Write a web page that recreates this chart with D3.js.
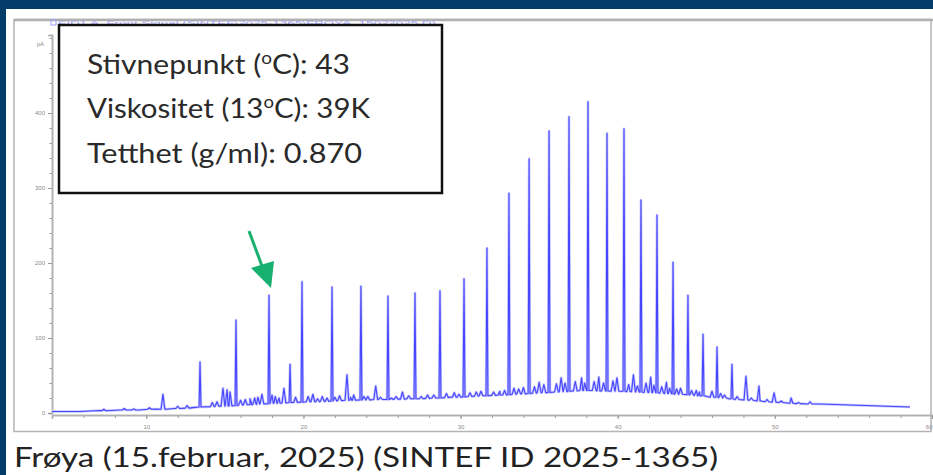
<!DOCTYPE html>
<html>
<head>
<meta charset="utf-8">
<script src="https://cdn.jsdelivr.net/npm/d3@7"></script>
<style>
  body { margin: 0; background: #023c68; }
  svg { display: block; }
  .tick text { font-family: "Liberation Sans", sans-serif; fill: #8a8a8a; }
</style>
</head>
<body>
<div id="chart"></div>
<script>
// chromatogram: time in minutes, signal in pA
var baseline = [
  [4.0, 2], [5.78, 2], [7.05, 3.3], [8.33, 4], [9.6, 4], [10.55, 5.3], [11.83, 6],
  [13.1, 7.5], [14.69, 9.3], [16.6, 11.3], [18.51, 13.3], [19.78, 14.7], [22.96, 17.3],
  [26.15, 18.7], [29.33, 21.3], [32.51, 24], [35.69, 28], [37.6, 30.7], [38.87, 29.3],
  [40.78, 29.3], [42.69, 26.7], [45.24, 22.7], [47.15, 18.7], [49.06, 16], [50.96, 13.3],
  [52.87, 12], [54.78, 10.7], [56.69, 9.3], [58.6, 8]
];

// peaks: [time, foot, top]
var peaks = [
  [11.06, 5, 25], [12.0, 6, 9], [12.6, 6.5, 10], [13.42, 8, 68], [14.2, 8.5, 14],
  [14.88, 9, 33], [15.14, 9.5, 31], [15.33, 9.5, 28], [15.71, 10, 124], [16.3, 11, 18],
  [16.9, 11.5, 20], [17.36, 12, 25], [17.81, 12.5, 157], [18.2, 13, 22], [18.76, 13.5, 33],
  [19.15, 14, 65], [19.91, 14.5, 175], [20.6, 15, 25], [21.2, 15.5, 22], [21.82, 16, 168],
  [22.3, 16.5, 23], [22.77, 17, 51], [23.2, 17, 24], [23.66, 17.5, 169], [24.1, 17.5, 22],
  [24.6, 18, 36], [25.38, 18, 156], [25.9, 18.5, 22], [26.3, 18.5, 28], [27.1, 19, 160],
  [27.9, 19.5, 24], [28.69, 20, 163], [29.6, 21, 27], [30.22, 21.5, 179], [31.0, 22.5, 28],
  [31.68, 23, 220], [32.5, 24, 29], [33.08, 24.5, 293], [33.7, 25.5, 32], [34.36, 26, 339],
  [35.0, 27, 41], [35.63, 27.5, 376], [36.4, 28.5, 47], [36.9, 29, 395], [37.7, 30, 47],
  [38.11, 30, 415], [38.8, 29.5, 48], [39.32, 29.5, 373], [39.95, 29, 47], [40.4, 29, 379],
  [41.0, 28.5, 51], [41.48, 28, 284], [42.1, 27.5, 48], [42.5, 27, 264], [43.1, 26, 41],
  [43.52, 25.5, 201], [44.0, 25, 33], [44.47, 24.5, 157], [45.0, 23.5, 30], [45.43, 23, 105],
  [46.32, 21, 88], [46.8, 20, 24], [47.27, 19, 65], [48.16, 17.5, 49], [48.99, 16, 36],
  [49.95, 14.5, 27], [51.03, 13, 20], [52.24, 12, 15]
];

// small bumps riding on the baseline: [time, foot, top]
var noise = [
  [7.3, 3, 5], [8.6, 4, 6], [9.2, 4, 5.5], [10.2, 5, 7],
  [14.5, 9, 15], [16.0, 10.5, 17], [16.6, 11, 19], [17.1, 12, 21], [18.0, 13, 24],
  [18.45, 13, 20], [19.5, 14, 21], [20.3, 15, 22], [20.9, 15, 19], [21.5, 15.5, 20],
  [22.0, 16, 21], [23.0, 17, 21], [23.85, 17.5, 22], [24.9, 18, 21], [25.6, 18, 20],
  [26.7, 19, 23], [27.5, 19, 22], [28.3, 20, 24], [29.1, 20.5, 26], [29.9, 21, 25],
  [30.6, 22, 27], [31.3, 23, 29], [32.1, 23.5, 28], [32.8, 24, 30], [33.4, 25, 33],
  [34.0, 25.5, 34], [34.7, 26.5, 35], [35.3, 27, 38], [36.1, 28, 39], [36.65, 28.5, 40],
  [37.3, 29.5, 42], [37.9, 30, 40], [38.5, 30, 42], [39.1, 29.5, 40], [39.7, 29, 43],
  [40.7, 28.5, 38], [41.25, 28, 36], [41.8, 27.5, 40], [42.3, 27, 37], [42.8, 26.5, 35],
  [43.3, 26, 33], [43.75, 25, 32], [44.7, 24, 30], [45.2, 23, 28], [46.0, 21, 29],
  [46.55, 20.5, 26], [47.6, 18, 22], [48.5, 17, 20], [49.5, 15, 18], [50.4, 14, 16],
  [51.5, 12.5, 14]
];

var yTicks = [0, 100, 200, 300, 400];
var xTicks = [10, 20, 30, 40, 50, 60];
var xTickLabels = ["10", "20", "30", "40", "50", "60"];
var infoLines = [
  ["Stivnepunkt (", "o", "C): 43"],
  ["Viskositet (13", "o", "C): 39K"],
  ["Tetthet (g/ml): 0.870", "", ""]
];
var caption = "Frøya (15.februar, 2025) (SINTEF ID 2025-1365)";
var signalTitle = "FID1 A, Front Signal (SINTEF\\2025-1365\\FROYA_15022025.D)";

var W = 933, H = 475;

var svg = d3.select("#chart").append("svg")
    .attr("width", W)
    .attr("height", H);

// white panel
svg.append("rect")
    .attr("x", 6).attr("y", 9)
    .attr("width", W - 6).attr("height", H - 9)
    .attr("fill", "#ffffff");

// chart frame
svg.append("rect")
    .attr("x", 14).attr("y", 19.5)
    .attr("width", 917).attr("height", 412)
    .attr("fill", "none")
    .attr("stroke", "#b4b4b4")
    .attr("stroke-width", 1.5);
svg.append("line")
    .attr("x1", 14).attr("x2", W).attr("y1", 20).attr("y2", 20)
    .attr("stroke", "#b0b0b0").attr("stroke-width", 2.5);

var x = d3.scaleLinear().domain([4, 60]).range([52, 932]);
var y = d3.scaleLinear().domain([0, 504]).range([413, 35]);

// y axis
var gy = svg.append("g")
    .attr("transform", "translate(52,0)")
    .call(d3.axisLeft(y).tickValues(d3.range(0, 501, 20)).tickSize(2.5).tickFormat(""));
gy.append("g")
    .call(d3.axisLeft(y).tickValues(yTicks).tickSize(4).tickPadding(3).tickFormat(d3.format("d")));
gy.selectAll("path.domain").attr("stroke", "#b0b0b0").attr("stroke-width", 1.5);
gy.selectAll("line").attr("stroke", "#9a9a9a");
gy.selectAll("text").style("font-size", "6px");
gy.append("text")
    .attr("x", -8).attr("y", 46)
    .attr("text-anchor", "end")
    .style("font-family", "Liberation Sans, sans-serif")
    .style("font-size", "6px")
    .attr("fill", "#8a8a8a")
    .text("pA");

// x axis
var gx = svg.append("g")
    .attr("transform", "translate(0,415)")
    .call(d3.axisBottom(x).tickValues(d3.range(6, 60, 2)).tickSize(3).tickFormat(""));
gx.append("g")
    .call(d3.axisBottom(x).tickValues(xTicks).tickSize(4).tickPadding(6)
      .tickFormat(function(d, i) { return xTickLabels[i]; }));
gx.selectAll("path.domain").attr("stroke", "#b0b0b0").attr("stroke-width", 1.5);
gx.selectAll("line").attr("stroke", "#9a9a9a");
gx.selectAll("text").style("font-size", "6px");
gx.selectAll(".tick text").filter(function(d) { return d === 60; })
    .attr("text-anchor", "end");

// signal: baseline points plus a narrow spike for each peak and bump
var pts = baseline.map(function(d) { return [d[0], d[1]]; });
peaks.concat(noise).forEach(function(p) {
  var hw = p[2] - p[1] > 40 ? 0.06 : 0.12;
  pts.push([p[0] - hw, p[1]], [p[0], p[2]], [p[0] + hw, p[1]]);
});
pts.sort(function(a, b) { return a[0] - b[0]; });

var line = d3.line()
    .x(function(d) { return x(d[0]); })
    .y(function(d) { return y(d[1]); });

svg.append("path")
    .datum(pts)
    .attr("d", line)
    .attr("fill", "none")
    .attr("stroke", "#c4c4ff")
    .attr("stroke-width", 2.6)
    .attr("stroke-linejoin", "round");
svg.append("path")
    .datum(pts)
    .attr("d", line)
    .attr("fill", "none")
    .attr("stroke", "#4646ff")
    .attr("stroke-width", 1.1)
    .attr("stroke-linejoin", "round");

// faint signal title at the top
svg.append("rect")
    .attr("x", 51).attr("y", 20).attr("width", 5).attr("height", 5)
    .attr("fill", "none").attr("stroke", "#9c9cff").attr("stroke-width", 1);
svg.append("text")
    .attr("x", 58).attr("y", 24.5)
    .attr("textLength", 378).attr("lengthAdjust", "spacingAndGlyphs")
    .style("font-family", "Liberation Sans, sans-serif")
    .style("font-size", "5px")
    .attr("fill", "#a6a6ff")
    .text(signalTitle);

// info box
svg.append("rect")
    .attr("x", 59).attr("y", 25)
    .attr("width", 383).attr("height", 168)
    .attr("fill", "#ffffff")
    .attr("stroke", "#111111")
    .attr("stroke-width", 2.5);

var lineY = [74, 118, 163];
var lineLen = [263, 283, 275];
infoLines.forEach(function(l, i) {
  var t = svg.append("text")
      .attr("x", 87).attr("y", lineY[i])
      .attr("textLength", lineLen[i]).attr("lengthAdjust", "spacingAndGlyphs")
      .style("font-family", "Lato, sans-serif")
      .style("font-size", "27px")
      .attr("fill", "#2a2a2a");
  t.append("tspan").text(l[0]);
  if (l[1]) {
    t.append("tspan").attr("dy", -10).style("font-size", "17px").text(l[1]);
    t.append("tspan").attr("dy", 10).text(l[2]);
  }
});

// green arrow pointing at the marked peak
svg.append("line")
    .attr("x1", 249).attr("y1", 231).attr("x2", 262).attr("y2", 266)
    .attr("stroke", "#17b06f").attr("stroke-width", 3);
svg.append("path")
    .attr("d", "M251,268 L274,261 L271,288 Z")
    .attr("fill", "#17b06f");

// caption
svg.append("text")
    .attr("x", 14).attr("y", 467)
    .attr("textLength", 704).attr("lengthAdjust", "spacingAndGlyphs")
    .style("font-family", "Lato, sans-serif")
    .style("font-size", "27px")
    .attr("fill", "#222222")
    .text(caption);
</script>
</body>
</html>
